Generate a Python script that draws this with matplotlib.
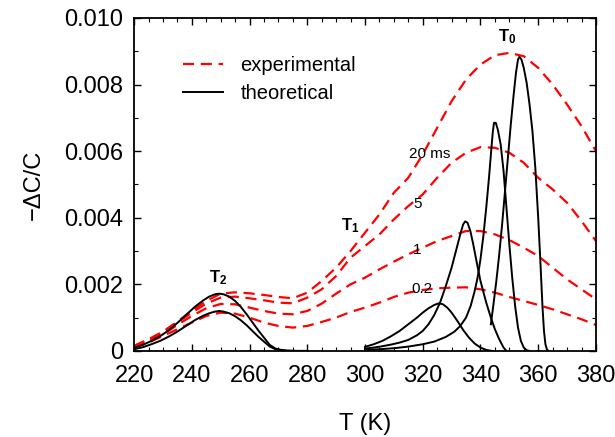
import matplotlib
matplotlib.use("Agg")
from matplotlib import pyplot as plt
from matplotlib.ticker import MultipleLocator

plt.rcParams['font.family'] = ['Liberation Sans', 'DejaVu Sans']
plt.rcParams['mathtext.fontset'] = 'custom'
plt.rcParams['mathtext.rm'] = 'Liberation Sans'
plt.rcParams['mathtext.bf'] = 'Liberation Sans:bold'

# experimental curves (values in units of 1e-3)
t_exp = [220, 225, 230, 235, 240, 245, 250, 255, 260, 265, 270, 275, 280,
         285, 290, 295, 300, 305, 310, 315, 320, 325, 330, 335, 340, 345,
         350, 355, 360, 365, 370, 375, 380]
exp_20ms = [0.15, 0.35, 0.58, 0.88, 1.2, 1.5, 1.72, 1.76, 1.73, 1.68, 1.62, 1.58, 1.75,
            2.1, 2.5, 3.0, 3.55, 4.1, 4.75, 5.2, 5.9, 6.7, 7.5, 8.15, 8.6, 8.88,
            8.95, 8.85, 8.5, 8.0, 7.4, 6.75, 6.0]
exp_5ms = [0.15, 0.33, 0.55, 0.85, 1.15, 1.42, 1.6, 1.63, 1.58, 1.52, 1.45, 1.43, 1.6,
           1.85, 2.25, 2.8, 3.15, 3.5, 3.95, 4.35, 4.7, 5.2, 5.65, 5.95, 6.12, 6.1,
           5.95, 5.65, 5.2, 4.85, 4.45, 3.9, 3.3]
exp_1ms = [0.12, 0.3, 0.5, 0.78, 1.05, 1.28, 1.41, 1.4, 1.3, 1.2, 1.12, 1.1, 1.2,
           1.42, 1.72, 2.0, 2.2, 2.45, 2.68, 2.9, 3.1, 3.3, 3.45, 3.6, 3.6, 3.5,
           3.33, 3.1, 2.85, 2.5, 2.15, 1.85, 1.55]
exp_02ms = [0.1, 0.25, 0.45, 0.65, 0.85, 1.05, 1.15, 1.12, 1.0, 0.85, 0.75, 0.7, 0.75,
            0.87, 1.0, 1.17, 1.3, 1.45, 1.62, 1.75, 1.83, 1.88, 1.9, 1.91, 1.85, 1.75,
            1.62, 1.5, 1.38, 1.25, 1.1, 0.95, 0.78]

# theoretical curves, low temperature peak (T2)
t_low = [220, 223, 226, 229, 232, 235, 238, 241, 244, 246, 248, 249.5, 251, 253,
         255, 257, 259, 261, 263, 265, 267, 269, 271, 273, 276, 280]
th_low_hi = [0.1, 0.18, 0.3, 0.44, 0.62, 0.84, 1.08, 1.32, 1.52, 1.63, 1.7, 1.72, 1.7, 1.63,
             1.5, 1.32, 1.1, 0.86, 0.62, 0.4, 0.18, 0.07, 0.03, 0.01, 0.0, 0.0]
th_low_lo = [0.05, 0.11, 0.2, 0.3, 0.43, 0.58, 0.75, 0.92, 1.06, 1.13, 1.18, 1.2, 1.18, 1.13,
             1.04, 0.92, 0.77, 0.6, 0.43, 0.28, 0.13, 0.05, 0.02, 0.005, 0.0, 0.0]

# theoretical curves, high temperature peaks (T1 .. T0)
t_a = [300, 303, 306, 309, 312, 315, 318, 320, 322, 324, 325.6, 327, 328.5, 330,
       332, 334, 336, 338, 340, 342, 344]
th_a = [0.12, 0.2, 0.3, 0.44, 0.6, 0.8, 1.0, 1.15, 1.28, 1.38, 1.43, 1.4, 1.3, 1.15,
        0.9, 0.63, 0.4, 0.22, 0.1, 0.03, 0.0]
t_b = [300, 303, 306, 309, 312, 315, 318, 320, 322, 324, 326, 328, 330, 331.5, 333,
       334, 334.7, 335.5, 336.5, 337.5, 338.5, 340, 342, 343.6, 345, 346.5, 348, 349]
th_b = [0.07, 0.1, 0.14, 0.19, 0.25, 0.33, 0.47, 0.6, 0.8, 1.08, 1.45, 1.95, 2.5, 3.0, 3.5,
        3.8, 3.89, 3.85, 3.6, 3.2, 2.75, 2.1, 1.45, 1.0, 0.65, 0.35, 0.1, 0.0]
t_c = [300, 305, 310, 315, 320, 324, 328, 331, 333, 335, 336.6, 338, 339, 340, 341,
       342, 343, 343.8, 344.3, 344.7, 345.3, 346, 347, 348, 349, 350, 351, 352, 353,
       354, 355, 356, 357]
th_c = [0.03, 0.05, 0.08, 0.13, 0.2, 0.28, 0.42, 0.58, 0.75, 1.0, 1.35, 1.8, 2.2, 2.75, 3.45,
        4.3, 5.25, 6.1, 6.6, 6.85, 6.85, 6.65, 6.2, 5.4, 4.3, 3.2, 2.2, 1.35, 0.7,
        0.3, 0.1, 0.02, 0.0]
t_d = [343.6, 344.5, 345.5, 346.5, 347.5, 348.5, 349.5, 350.5, 351.5, 352.3, 353, 353.5,
       354.2, 355, 356, 357, 358, 359, 360, 360.8, 361.5, 362, 362.5, 363, 363.5]
th_d = [0.8, 1.4, 2.1, 2.9, 3.8, 4.8, 5.8, 6.8, 7.7, 8.35, 8.75, 8.83,
        8.75, 8.5, 8.05, 7.4, 6.6, 5.5, 4.0, 2.6, 1.3, 0.6, 0.2, 0.05, 0.0]

ytick_vals = [0, 0.002, 0.004, 0.006, 0.008, 0.010]
ytick_text = ['0', '0.002', '0.004', '0.006', '0.008', '0.010']
xtick_vals = [220, 240, 260, 280, 300, 320, 340, 360, 380]

fig = plt.figure(figsize=(6.15, 4.37), dpi=100)
ax = fig.add_axes([0.218, 0.197, 0.751, 0.762])

red = '#ff0000'
dash = (0, (5, 3))
sc = 1e-3
for ys in [exp_20ms, exp_5ms, exp_1ms, exp_02ms]:
    ax.plot(t_exp, [v * sc for v in ys], color=red, lw=1.6, linestyle=dash)

for tt, ys in [(t_low, th_low_hi), (t_low, th_low_lo), (t_a, th_a),
               (t_b, th_b), (t_c, th_c), (t_d, th_d)]:
    ax.plot(tt, [v * sc for v in ys], color='black', lw=1.4)

ax.plot([], [], color=red, lw=1.6, linestyle=dash, label='experimental')
ax.plot([], [], color='black', lw=1.4, label='theoretical')
handles, labels = ax.get_legend_handles_labels()
ax.legend(handles, labels, loc='upper left', bbox_to_anchor=(0.106, 0.885),
          frameon=False, fontsize=14.5, handlelength=2.0, handletextpad=0.85,
          labelspacing=0.42, borderaxespad=0, borderpad=0)

ax.text(315.1, 5.9e-3, '20 ms', fontsize=11, va='center', ha='left')
ax.text(318.1, 4.42e-3, '5', fontsize=11, va='center', ha='center')
ax.text(318.1, 3.03e-3, '1', fontsize=11, va='center', ha='center')
ax.text(319.6, 1.86e-3, '0.2', fontsize=11, va='center', ha='center')
ax.text(349.2, 9.45e-3, r'$\mathbf{T_0}$', fontsize=12, va='center', ha='center')
ax.text(295.0, 3.75e-3, r'$\mathbf{T_1}$', fontsize=12, va='center', ha='center')
ax.text(249.0, 2.2e-3, r'$\mathbf{T_2}$', fontsize=12, va='center', ha='center')

ax.set_xlim(220, 380)
ax.set_ylim(0, 0.010)
ax.set_xticks(xtick_vals)
ax.set_yticks(ytick_vals)
ax.set_yticklabels(ytick_text)
ax.xaxis.set_minor_locator(MultipleLocator(5))
ax.yaxis.set_minor_locator(MultipleLocator(0.001))
ax.tick_params(which='both', direction='in', top=True, right=True, labelsize=17)
ax.tick_params(which='major', length=5, width=1)
ax.tick_params(which='minor', length=3, width=0.8)
ax.tick_params(axis='x', pad=10)
ax.tick_params(axis='y', pad=8)
for s in ax.spines.values():
    s.set_linewidth(1.3)

ax.set_xlabel('T (K)', fontsize=17, labelpad=19)
ax.set_ylabel('\u2212\u0394C/C', fontsize=17, labelpad=14)

fig.savefig('out.png', dpi=100)
